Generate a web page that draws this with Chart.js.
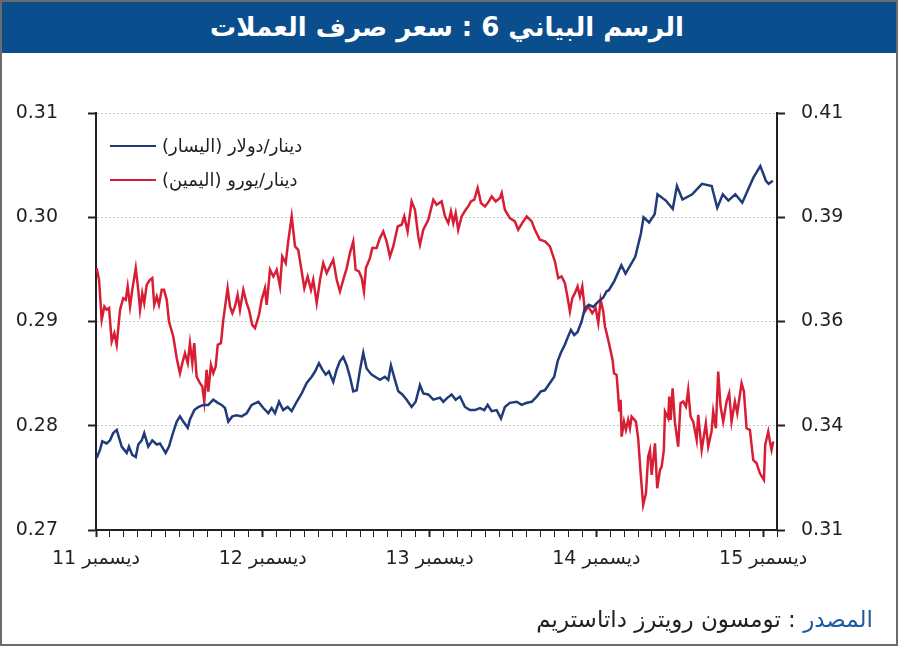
<!DOCTYPE html>
<html>
<head>
<meta charset="utf-8">
<script src="https://cdn.jsdelivr.net/npm/chart.js@4"></script>
<style>
  body { margin: 0; background: #fff; font-family: "DejaVu Sans", sans-serif; }
  #frame { position: absolute; left: 0; top: 0; width: 898px; height: 646px; box-sizing: border-box; border: 2px solid #6b6b6b; }
  #titleBar { position: absolute; left: 2px; top: 2px; width: 890px; height: 51px; background: #0b4e8e; color: #fff;
    font: bold 26px "DejaVu Sans", sans-serif; text-align: center; line-height: 50px; padding-right: 4px; }
  #fxChart { position: absolute; left: 0; top: 0; direction: rtl; }
  .legendRow { position: absolute; left: 110px; height: 22px; }
  .legendRow .swatch { position: absolute; left: 0; top: 10px; width: 46px; height: 2px; }
  .legendRow .txt { position: absolute; left: 52px; top: 0; white-space: nowrap; font-size: 18px; color: #231f20; line-height: 22px; }
  #source { position: absolute; right: 26px; top: 606px; font-size: 23px; color: #231f20; white-space: nowrap; }
  #source .lead { color: #1d5aa5; }
</style>
</head>
<body>
<div id="frame"></div>
<div id="titleBar" dir="rtl">الرسم البياني 6 : سعر صرف العملات</div>
<canvas id="fxChart" width="899" height="650"></canvas>
<div class="legendRow" style="top:135px"><div class="swatch" style="background:#213a7a"></div><div class="txt" dir="rtl">دينار/دولار (اليسار)</div></div>
<div class="legendRow" style="top:169px"><div class="swatch" style="background:#d81e34"></div><div class="txt" dir="rtl">دينار/يورو (اليمين)</div></div>
<div id="source" dir="rtl"><span class="lead">المصدر</span> : تومسون رويترز داتاستريم</div>

<script>
// months counted from December 2011
const xTickLabels = ["ديسمبر 11", "ديسمبر 12", "ديسمبر 13", "ديسمبر 14", "ديسمبر 15"];
const leftTickLabels = ["0.27", "0.28", "0.29", "0.30", "0.31"];
const rightTickLabels = ["0.31", "0.34", "0.36", "0.39", "0.41"];

// dinar / dollar (left axis)
const usdMonths = [0.05,0.29,0.45,0.77,1.01,1.24,1.49,1.85,2.21,2.37,2.61,2.86,3.04,3.29,3.47,3.76,4.05,4.37,4.60,5.01,5.25,5.56,5.81,6.04,6.28,6.60,6.76,7.07,7.36,7.72,8.08,8.44,8.76,9.04,9.28,9.52,9.81,10.12,10.48,10.84,11.20,11.68,12.04,
  12.40,12.64,12.88,13.17,13.47,13.79,14.08,14.44,14.80,15.16,15.52,15.76,16.04,16.28,16.53,16.76,17.07,17.32,17.55,17.79,18.04,18.27,18.51,18.76,19.00,19.23,19.47,19.83,20.19,20.43,20.79,21.03,21.22,21.51,21.75,22.04,22.35,22.71,23.00,23.31,23.55,23.91,24.27,
  24.75,24.99,25.30,25.59,25.88,26.19,26.55,26.91,27.27,27.63,27.94,28.18,28.47,28.83,29.14,29.42,29.78,30.27,30.63,30.99,31.35,31.71,32.01,32.30,32.66,32.97,33.22,33.45,33.74,33.98,34.17,34.41,34.65,34.94,35.18,35.47,35.78,36.14,36.50,36.74,
  36.9,37.3,37.8,38.1,38.8,39.2,39.4,39.8,40.2,40.4,41.0,41.5,41.8,42.2,42.9,43.6,44.3,44.7,45.1,45.5,46.0,46.5,47.0,47.3,47.8,48.2,48.4,48.7];
const usdRates = [0.2769,0.2777,0.2785,0.2783,0.2786,0.2793,0.2796,0.2780,0.2774,0.2780,0.2772,0.2770,0.2782,0.2786,0.2793,0.2780,0.2786,0.2782,0.2783,0.2774,0.2780,0.2794,0.2804,0.2809,0.2804,0.2798,0.2806,0.2815,0.2818,0.2820,0.2820,0.2825,0.2822,0.2820,0.2817,0.2804,0.2809,0.2810,0.2809,0.2812,0.2820,0.2823,0.2817,
  0.2812,0.2817,0.2812,0.2823,0.2815,0.2818,0.2814,0.2823,0.2831,0.2841,0.2847,0.2852,0.2860,0.2854,0.2849,0.2852,0.2842,0.2854,0.2862,0.2866,0.2858,0.2847,0.2833,0.2834,0.2854,0.2870,0.2855,0.2849,0.2846,0.2844,0.2847,0.2844,0.2858,0.2844,0.2833,0.2830,0.2825,0.2818,0.2823,0.2839,0.2831,0.2830,0.2825,
  0.2827,0.2823,0.2827,0.2830,0.2825,0.2828,0.2818,0.2815,0.2815,0.2817,0.2815,0.2820,0.2814,0.2815,0.2807,0.2818,0.2822,0.2823,0.2820,0.2822,0.2823,0.2828,0.2833,0.2834,0.2841,0.2847,0.2862,0.2870,0.2878,0.2886,0.2892,0.2887,0.2890,0.2900,0.2913,0.2916,0.2914,0.2919,0.2923,0.2929,
  0.2930,0.2939,0.2954,0.2946,0.2962,0.2984,0.3000,0.2995,0.3003,0.3022,0.3016,0.3008,0.3030,0.3017,0.3022,0.3032,0.3030,0.3009,0.3022,0.3016,0.3022,0.3014,0.3029,0.3038,0.3049,0.3035,0.3032,0.3035];

// dinar / euro (right axis)
const eurMonths = [0.05,0.22,0.41,0.60,0.77,0.94,1.13,1.32,1.49,1.73,1.96,2.14,2.28,2.45,2.61,2.86,3.04,3.17,3.33,3.47,3.65,3.88,4.05,4.19,4.37,4.53,4.73,4.89,5.09,5.25,5.56,5.81,6.04,6.21,6.40,6.60,6.76,6.93,7.07,7.24,7.48,7.65,7.79,7.96,8.08,8.27,8.44,8.61,8.76,8.99,9.16,9.47,9.64,9.81,10.00,10.19,10.36,10.60,10.84,11.01,11.24,11.44,11.73,11.92,12.16,
  12.28,12.52,12.76,13.00,13.24,13.40,13.65,13.83,14.08,14.32,14.55,14.80,14.99,15.23,15.47,15.63,15.88,16.12,16.35,16.60,16.83,17.07,17.32,17.55,17.79,18.04,18.27,18.51,18.68,18.92,19.12,19.28,19.42,19.71,19.88,20.19,20.43,20.67,20.91,21.15,21.39,21.71,21.99,22.18,22.42,22.71,22.95,23.19,23.31,23.55,23.91,24.27,24.51,
  24.87,25.11,25.35,25.54,25.71,25.88,26.06,26.31,26.60,26.78,26.98,27.22,27.46,27.70,27.99,28.27,28.47,28.76,29.06,29.19,29.42,29.78,30.14,30.38,30.74,30.99,31.35,31.58,31.94,32.30,32.66,33.02,33.26,33.50,33.74,33.94,34.10,34.27,34.46,34.65,34.82,34.99,35.18,35.42,35.71,35.95,36.14,36.31,36.50,36.62,36.74,36.91,
  37.17,37.27,37.46,37.58,37.65,37.75,37.82,37.99,38.13,38.29,38.42,38.54,38.85,39.01,39.19,39.37,39.57,39.73,39.86,39.98,40.22,40.38,40.58,40.70,40.86,40.94,41.17,41.25,41.35,41.49,41.65,41.89,42.06,42.25,42.45,42.61,42.78,42.97,43.22,43.33,43.58,43.88,44.05,44.29,44.41,44.60,44.77,44.94,45.13,45.37,45.56,45.73,45.97,46.14,46.45,46.62,46.81,47.05,47.29,47.53,47.77,48.06,48.15,48.37,48.49,48.61,48.73];
const eurRates = [0.3728,0.3700,0.3604,0.3636,0.3628,0.3632,0.3552,0.3572,0.3544,0.3628,0.3656,0.3652,0.3684,0.3636,0.3676,0.3728,0.3676,0.3628,0.3668,0.3644,0.3688,0.3700,0.3704,0.3640,0.3660,0.3640,0.3676,0.3676,0.3652,0.3600,0.3564,0.3512,0.3476,0.3500,0.3524,0.3500,0.3548,0.3500,0.3548,0.3468,0.3452,0.3444,0.3408,0.3484,0.3432,0.3496,0.3476,0.3492,0.3544,0.3548,0.3604,0.3680,0.3636,0.3620,0.3636,0.3664,0.3628,0.3676,0.3644,0.3628,0.3592,0.3584,0.3616,0.3652,0.3680,
  0.3640,0.3724,0.3708,0.3724,0.3684,0.3756,0.3740,0.3792,0.3852,0.3780,0.3772,0.3720,0.3680,0.3708,0.3676,0.3700,0.3644,0.3700,0.3740,0.3716,0.3732,0.3748,0.3700,0.3672,0.3700,0.3728,0.3764,0.3792,0.3724,0.3720,0.3704,0.3672,0.3728,0.3752,0.3776,0.3776,0.3800,0.3816,0.3792,0.3756,0.3780,0.3828,0.3832,0.3852,0.3816,0.3888,0.3868,0.3804,0.3784,0.3820,0.3844,0.3892,0.3880,
  0.3888,0.3852,0.3836,0.3864,0.3836,0.3860,0.3820,0.3852,0.3868,0.3876,0.3888,0.3892,0.3920,0.3884,0.3876,0.3888,0.3900,0.3888,0.3896,0.3908,0.3868,0.3848,0.3840,0.3820,0.3840,0.3852,0.3840,0.3820,0.3796,0.3792,0.3780,0.3744,0.3704,0.3708,0.3692,0.3656,0.3624,0.3656,0.3668,0.3684,0.3660,0.3684,0.3624,0.3636,0.3620,0.3632,0.3596,0.3652,0.3624,0.3588,0.3572,0.3548,
  0.3508,0.3476,0.3472,0.3420,0.3384,0.3412,0.3324,0.3360,0.3340,0.3364,0.3344,0.3372,0.3360,0.3320,0.3236,0.3160,0.3188,0.3276,0.3292,0.3232,0.3308,0.3200,0.3244,0.3252,0.3292,0.3384,0.3368,0.3420,0.3364,0.3440,0.3360,0.3300,0.3404,0.3408,0.3396,0.3436,0.3372,0.3360,0.3316,0.3376,0.3292,0.3356,0.3300,0.3336,0.3384,0.3344,0.3480,0.3396,0.3360,0.3408,0.3428,0.3360,0.3408,0.3380,0.3452,0.3432,0.3344,0.3340,0.3268,0.3260,0.3236,0.3220,0.3304,0.3336,0.3312,0.3292,0.3312];

const usdPoints = usdMonths.map((m, i) => ({x: m, y: usdRates[i]}));
const eurPoints = eurMonths.map((m, i) => ({x: m, y: eurRates[i]}));

const axisColor = "#231f20";
const tickFont = {family: "DejaVu Sans", size: 19};

new Chart("fxChart", {
  type: "line",
  data: {
    datasets: [
      {label: "دينار/دولار (اليسار)", data: usdPoints, yAxisID: "y", borderColor: "#213a7a", borderWidth: 2.5, pointRadius: 0, tension: 0},
      {label: "دينار/يورو (اليمين)", data: eurPoints, yAxisID: "y2", borderColor: "#d81e34", borderWidth: 2.5, pointRadius: 0, tension: 0}
    ]
  },
  options: {
    responsive: false,
    animation: false,
    layout: {padding: {top: 113}},
    plugins: {legend: {display: false}, tooltip: {enabled: false}},
    scales: {
      x: {
        type: "linear", min: 0, max: 49,
        ticks: {
          stepSize: 1, autoSkip: false, maxRotation: 0, color: axisColor, padding: 11,
          font: {family: "DejaVu Sans", size: 19},
          callback: (v) => (v % 12 === 0 ? xTickLabels[v / 12] : "")
        },
        grid: {drawOnChartArea: false, tickLength: 7, tickColor: axisColor,
          tickWidth: (c) => (c.tick && c.tick.value % 12 === 0 ? 2 : 1)},
        border: {color: axisColor, width: 2},
        afterFit(s) { s.height = 120; }
      },
      y: {
        position: "left", min: 0.27, max: 0.31,
        ticks: {stepSize: 0.01, color: axisColor, padding: 30, font: tickFont,
          callback: (v, i) => leftTickLabels[i]},
        grid: {color: "#c4c4c4", lineWidth: 1, tickColor: axisColor, tickLength: 8, tickWidth: 2, tickBorderDash: []},
        border: {color: axisColor, width: 2, dash: [2, 2]},
        afterFit(s) { s.width = 96; }
      },
      y2: {
        position: "right", min: 0.31, max: 0.41,
        ticks: {stepSize: 0.025, color: axisColor, padding: 16, font: tickFont,
          callback: (v, i) => rightTickLabels[i]},
        grid: {drawOnChartArea: false, tickColor: axisColor, tickLength: 8, tickWidth: 2},
        border: {color: axisColor, width: 2},
        afterFit(s) { s.width = 122; }
      }
    }
  }
});
</script>
</body>
</html>
